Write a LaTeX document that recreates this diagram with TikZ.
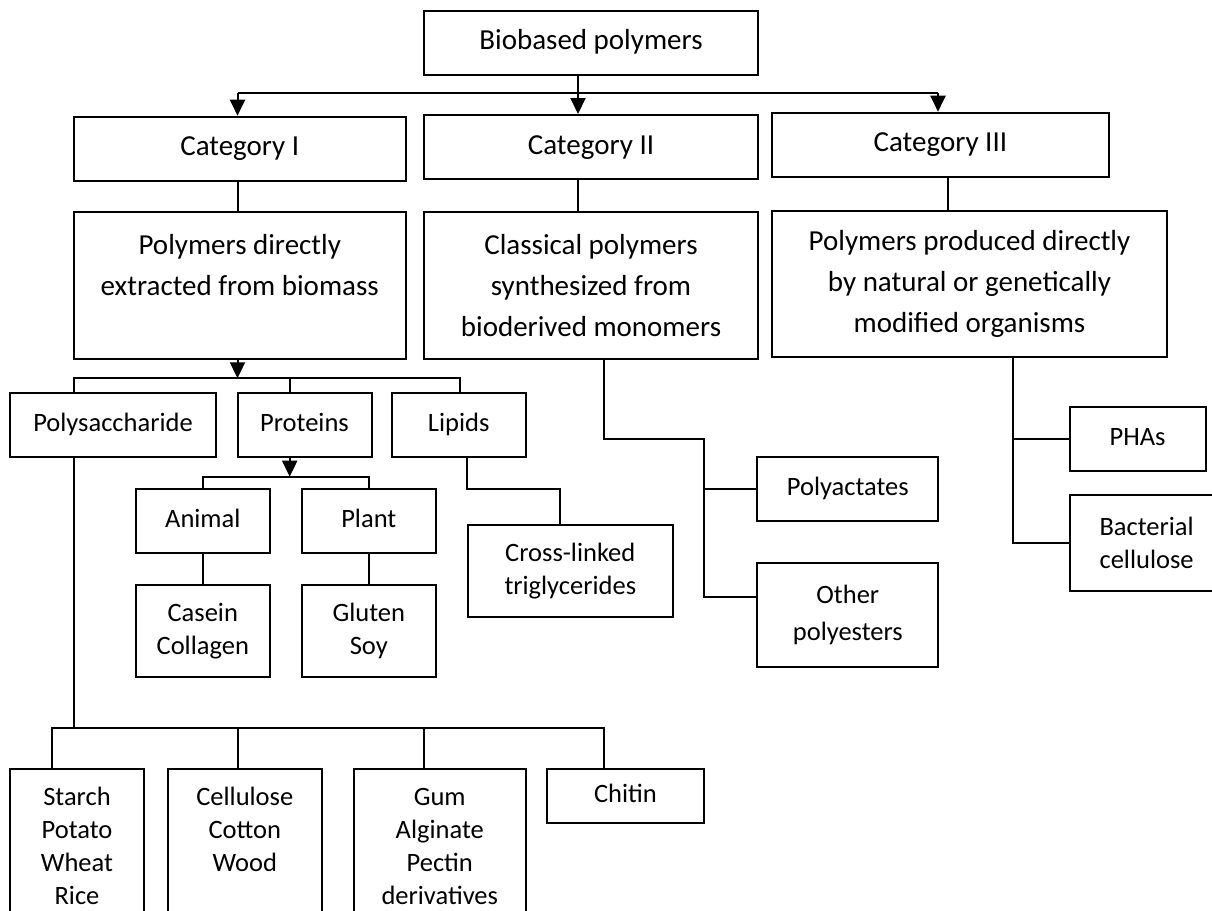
\documentclass[tikz,border=0pt]{standalone}
\usepackage{fontspec}
\setmainfont{Carlito}
\usetikzlibrary{arrows.meta}

\begin{document}
\begin{tikzpicture}[
    x=0.5pt, y=-0.5pt, line width=1pt,
    >={Triangle[length=8pt,width=7.5pt]},
    bigbox/.style={rectangle,draw,inner sep=0pt,align=center,font=\fontsize{14.5}{20.5}\selectfont},
    smallbox/.style={rectangle,draw,inner sep=0pt,align=center,font=\fontsize{13.25}{16.5}\selectfont},
    bigone/.style={bigbox,text height=10.6pt,text depth=3.6pt},
    smallone/.style={smallbox,text height=9.7pt,text depth=3.3pt}
    ]
    \clip (0,0) rectangle (1212,911);

    \node (bio) at (591, 42.7) [bigone, minimum width=167pt, minimum height=32pt] {Biobased polymers};
    \node (cat1) at (239.75, 148.85) [bigone, minimum width=165.75pt, minimum height=32.15pt] {Category I};
    \node (cat2) at (591, 147) [bigone, minimum width=167pt, minimum height=32pt] {Category II};
    \node (cat3) at (940.35, 144.7) [bigone, minimum width=168.35pt, minimum height=32pt] {Category III};
    \node (pd) at (239.75, 285.65) [bigbox, minimum width=165.75pt, minimum height=73.35pt] {Polymers directly\\extracted from biomass\\\mbox{}};
    \node (classic) at (591, 285.65) [bigbox, minimum width=167pt, minimum height=73.35pt] {Classical polymers\\synthesized from\\bioderived monomers};
    \node (prod) at (969.5, 283.7) [bigbox, minimum width=197.5pt, minimum height=73pt] {Polymers produced directly\\by natural or genetically\\modified organisms};

    \node (poly) at (113, 424.7) [smallone, minimum width=103pt, minimum height=32pt] {Polysaccharide};
    \node (prot) at (304.5, 424.7) [smallone, minimum width=67pt, minimum height=32pt] {Proteins};
    \node (lip) at (458.7, 424.7) [smallone, minimum width=67pt, minimum height=32pt] {Lipids};
    \node (animal) at (202.8, 520.85) [smallone, minimum width=67.2pt, minimum height=31.85pt] {Animal};
    \node (plant) at (368.8, 520.85) [smallone, minimum width=67.2pt, minimum height=31.85pt] {Plant};
    \node (casein) at (202.8, 630.85) [smallbox, minimum width=67.2pt, minimum height=45.85pt] {Casein\\Collagen};
    \node (gluten) at (368.8, 630.85) [smallbox, minimum width=67.2pt, minimum height=45.85pt] {Gluten\\Soy};
    \node (cross) at (570.3, 570.85) [smallbox, minimum width=102.7pt, minimum height=45.85pt] {Cross-linked\\triglycerides};
    \node (polyact) at (847.8, 488.7) [smallone, minimum width=90.5pt, minimum height=32pt] {Polyactates};
    \node (other) at (847.8, 615) [smallbox, minimum width=90.5pt, minimum height=52.3pt, font=\fontsize{13.25}{18.3}\selectfont] {Other\\polyesters};
    \node (phas) at (1137.55, 438.85) [smallone, minimum width=67.95pt, minimum height=32.15pt] {PHAs};
    \node (bact) at (1146.6, 543) [smallbox, minimum width=77pt, minimum height=48pt] {Bacterial\\cellulose};

    \node (starch) at (77, 846) [smallbox, minimum width=67pt, minimum height=77pt] {Starch\\Potato\\Wheat\\Rice};
    \node (cell) at (244.8, 846) [smallbox, minimum width=77.2pt, minimum height=77pt] {Cellulose\\Cotton\\Wood\\\mbox{}};
    \node (gum) at (439.75, 846) [smallbox, minimum width=85.95pt, minimum height=77pt] {Gum\\Alginate\\Pectin\\derivatives};
    \node (chitin) at (625.5, 795.85) [smallone, minimum width=78.1pt, minimum height=26.85pt] {Chitin};

    % top level
    \coordinate (busL) at (237.5, 92.7);
    \coordinate (busM) at (578, 92.7);
    \coordinate (busR) at (938, 92.7);
    \coordinate (colC) at (948, 0);
    \draw [->] (bio.south -| busM) -- (cat2.north -| busM);
    \draw (busL) -- (busR);
    \draw [->] (busL) -- (cat1.north -| busL);
    \draw [->] (busR) -- (cat3.north -| busR);
    \draw (cat1.south -| busL) -- (pd.north -| busL);
    \draw (cat2.south -| busM) -- (classic.north -| busM);
    \draw (cat3.south -| colC) -- (prod.north -| colC);

    % category I
    \coordinate (pdbus) at (237.5, 378.3);
    \coordinate (dpoly) at (74, 378.3);
    \coordinate (dprot) at (289.7, 378.3);
    \coordinate (dlip) at (459.7, 378.3);
    \draw [->] (pd.south -| pdbus) -- (pdbus);
    \draw (poly.north -| dpoly) -- (dpoly) -- (dlip) -- (lip.north -| dlip);
    \draw (dprot) -- (prot.north -| dprot);

    \coordinate (protbus) at (289.7, 476.7);
    \draw [->] (prot.south -| protbus) -- (protbus);
    \draw (animal.north) |- (protbus) -| (plant.north);
    \draw (animal) -- (casein);
    \draw (plant) -- (gluten);

    \coordinate (lipbend) at (560, 489);
    \draw (lip.south -| cross.west) |- (lipbend) -- (cross.north -| lipbend);

    \coordinate (sbus) at (74, 728.3);
    \coordinate (dstarch) at (51.8, 728.3);
    \coordinate (dcell) at (237.5, 728.3);
    \coordinate (dgum) at (423.7, 728.3);
    \coordinate (dchitin) at (603.6, 728.3);
    \draw (poly.south -| sbus) -- (sbus);
    \draw (starch.north -| dstarch) -- (dstarch) -- (dchitin) -- (chitin.north -| dchitin);
    \draw (dcell) -- (cell.north -| dcell);
    \draw (dgum) -- (gum.north -| dgum);

    % category II
    \coordinate (cbend) at (604, 439.3);
    \coordinate (ctrunk) at (703.6, 439.3);
    \coordinate (cend) at (703.6, 596.7);
    \draw (classic.south -| cbend) -- (cbend) -- (ctrunk) -- (cend) -- (other.west |- cend);
    \draw (ctrunk |- polyact.west) -- (polyact.west);

    % category III
    \coordinate (ptrunk) at (1013, 0);
    \draw (prod.south -| ptrunk) |- (bact.west);
    \draw (ptrunk |- phas.west) -- (phas.west);
\end{tikzpicture}
\end{document}
